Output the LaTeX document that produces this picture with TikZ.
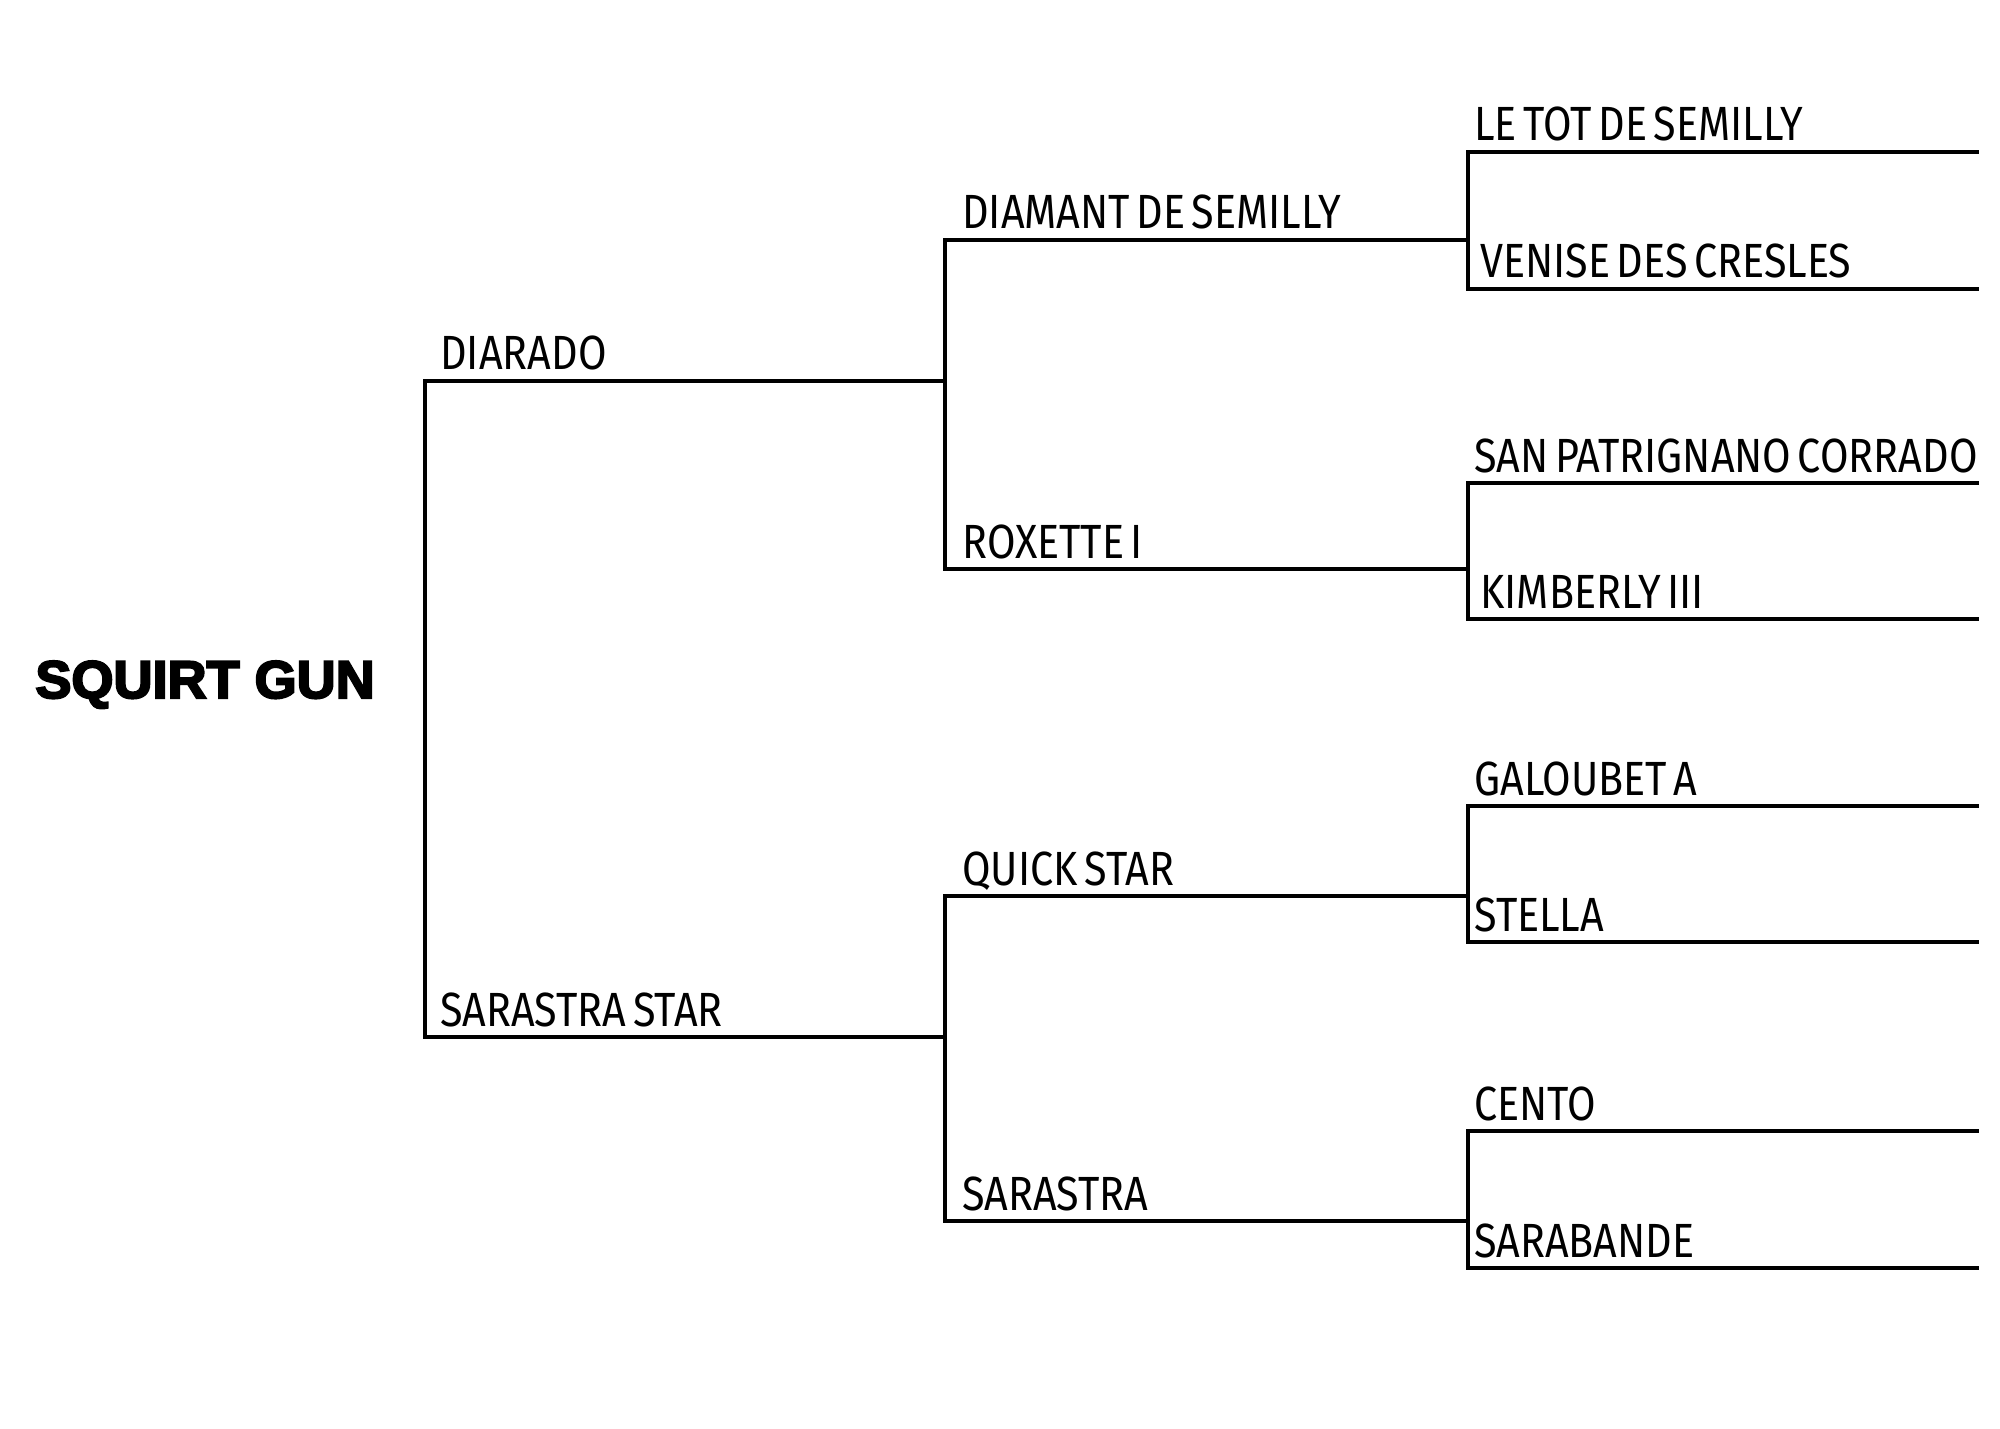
\documentclass[tikz,border=0pt]{standalone}
\usepackage{fontspec}
\setmainfont{Fira Sans}[FakeStretch=0.86, WordSpace=0.6]
\newfontfamily\titlefont{Liberation Sans}[FakeBold=4, FakeStretch=1.02]
\tikzset{
  line/.style={line width=2.4pt, line cap=rect, black},
  lbl/.style={anchor=base west, inner sep=0pt, font=\fontsize{24pt}{24pt}\selectfont},
}
\begin{document}
\begin{tikzpicture}[x=0.5pt,y=-0.5pt]
\useasboundingbox (0,0) rectangle (2000,1428);
% title
\node[anchor=base west, inner sep=0pt, font=\titlefont\bfseries\fontsize{26.5pt}{26.5pt}\selectfont] (sq) at (35,698) {SQUIRT GUN};
% generation 1
\coordinate (g1t) at (425,381);
\coordinate (g1b) at (425,1037);
\coordinate (g2t) at (945,381);
\coordinate (g2b) at (945,1037);
\draw[line] (g2t) -- (g1t) -- (g1b) -- (g2b);
\node[lbl] (diarado) at (440,370) {DIARADO};
\node[lbl] (sarastrastar) at (440,1026) {SARASTRA STAR};
% generation 2
\coordinate (a1) at (945,240);
\coordinate (a2) at (945,569);
\coordinate (b1) at (945,896);
\coordinate (b2) at (945,1221);
\coordinate (a1e) at (1468,240);
\coordinate (a2e) at (1468,569);
\coordinate (b1e) at (1468,896);
\coordinate (b2e) at (1468,1221);
\draw[line] (a1e) -- (a1) -- (a2) -- (a2e);
\draw[line] (b1e) -- (b1) -- (b2) -- (b2e);
\node[lbl] (diamant) at (962,229) {DIAMANT DE SEMILLY};
\node[lbl] (roxette) at (962,558) {ROXETTE I};
\node[lbl] (quick) at (962,885) {QUICK STAR};
\node[lbl] (sarastra) at (962,1210) {SARASTRA};
% generation 3
\foreach \t/\b [count=\i] in {152/289, 483/619, 806/942, 1131/1268}{
  \coordinate (c\i t) at (1468,\t);
  \coordinate (c\i b) at (1468,\b);
  \coordinate (c\i te) at (1977,\t);
  \coordinate (c\i be) at (1977,\b);
  \draw[line] (c\i te) -- (c\i t) -- (c\i b) -- (c\i be);
}
\node[lbl] (letot) at (1474,141) {LE TOT DE SEMILLY};
\node[lbl] (venise) at (1480,278) {VENISE DES CRESLES};
\node[lbl] (sanpat) at (1474,472) {SAN PATRIGNANO CORRADO};
\node[lbl] (kimberly) at (1480,608) {KIMBERLY III};
\node[lbl] (galoubet) at (1474,795) {GALOUBET A};
\node[lbl] (stella) at (1474,931) {STELLA};
\node[lbl] (cento) at (1474,1120) {CENTO};
\node[lbl] (sarabande) at (1474,1257) {SARABANDE};
\end{tikzpicture}
\end{document}
